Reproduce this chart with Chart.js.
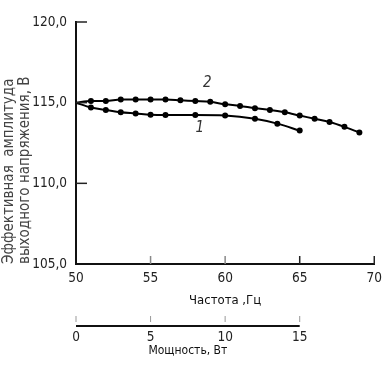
<!DOCTYPE html>
<html>
<head>
<meta charset="utf-8">
<script src="https://cdn.jsdelivr.net/npm/chart.js@4"></script>
<style>
  html, body { margin: 0; padding: 0; background: #fff; }
</style>
</head>
<body>
<canvas id="chart" width="388" height="366"></canvas>
<script>
// Curve 2 (upper)
const freq2 = [50, 51, 52, 53, 54, 55, 56, 57, 58, 59, 60, 61, 62, 63, 64, 65, 66, 67, 68, 69];
const volt2 = [115.0, 115.1, 115.1, 115.2, 115.2, 115.2, 115.2, 115.15, 115.1, 115.05, 114.9, 114.8, 114.65, 114.55, 114.4, 114.2, 114.0, 113.8, 113.5, 113.15];
// Curve 1 (lower)
const freq1 = [50, 51, 52, 53, 54, 55, 56, 58, 60, 62, 63.5, 65];
const volt1 = [115.0, 114.7, 114.55, 114.4, 114.33, 114.25, 114.23, 114.23, 114.2, 114.0, 113.7, 113.27];

const freqTicks = [50, 55, 60, 65, 70];
const voltTicks = [105, 110, 115, 120];
const powerTicks = [0, 5, 10, 15];

// curve number labels: [text, freq, volt]
const curveLabels = [['2', 58.8, 116.2], ['1', 58.3, 113.45]];

// narrow face if one is installed, else the plain sans
const FONT = '"Liberation Sans Narrow", "DejaVu Sans", sans-serif';
const STRETCH = 'condensed';

function toPoints(xs, ys) {
    return xs.map((x, i) => ({ x: x, y: ys[i] }));
}

const extras = {
    id: 'extras',
    afterDraw(chart) {
        const ctx = chart.ctx;
        const x = chart.scales.x;
        const y = chart.scales.y;
        const x2 = chart.scales.x2;
        ctx.save();

        // inward tick marks on the main axes
        ctx.strokeStyle = '#222';
        ctx.lineWidth = 1.5;
        voltTicks.forEach(v => {
            if (v <= y.min) return;
            const py = y.getPixelForValue(v);
            ctx.beginPath();
            ctx.moveTo(x.left, py);
            ctx.lineTo(x.left + 11, py);
            ctx.stroke();
        });
        freqTicks.forEach(v => {
            if (v <= x.min) return;
            const px = x.getPixelForValue(v);
            ctx.strokeStyle = v >= 65 ? '#222' : '#888';
            ctx.beginPath();
            ctx.moveTo(px, y.bottom);
            ctx.lineTo(px, y.bottom - 8);
            ctx.stroke();
        });

        // power axis line, only 0..15
        ctx.strokeStyle = '#111';
        ctx.lineWidth = 2;
        ctx.beginPath();
        ctx.moveTo(x2.getPixelForValue(0), x2.top);
        ctx.lineTo(x2.getPixelForValue(15), x2.top);
        ctx.stroke();
        ctx.strokeStyle = '#999';
        ctx.lineWidth = 1;
        powerTicks.forEach(v => {
            const px = x2.getPixelForValue(v);
            ctx.beginPath();
            ctx.moveTo(px, x2.top - 10);
            ctx.lineTo(px, x2.top - 4);
            ctx.stroke();
        });

        ctx.fillStyle = '#111';
        ctx.textAlign = 'center';
        ctx.textBaseline = 'middle';
        ctx.font = STRETCH + ' 12px ' + FONT;
        ctx.fillText('Мощность, Вт', x2.getPixelForValue(7.5), x2.top + 25);

        // curve numbers
        ctx.font = 'italic ' + STRETCH + ' 15px ' + FONT;
        ctx.fillStyle = '#333';
        curveLabels.forEach(([t, fx, fy]) => {
            ctx.fillText(t, x.getPixelForValue(fx), y.getPixelForValue(fy));
        });
        ctx.restore();
    }
};

const lineStyle = {
    borderColor: '#000',
    backgroundColor: '#000',
    borderWidth: 2,
    pointRadius: c => (c.dataIndex === 0 ? 0 : 3),
    pointBorderWidth: 0,
    showLine: true,
    cubicInterpolationMode: 'monotone',
    fill: false
};

const tickFont = { family: FONT, size: 13.5, weight: STRETCH };

new Chart(document.getElementById('chart'), {
    type: 'scatter',
    data: {
        datasets: [
            Object.assign({ label: '2', data: toPoints(freq2, volt2) }, lineStyle),
            Object.assign({ label: '1', data: toPoints(freq1, volt1) }, lineStyle)
        ]
    },
    options: {
        responsive: false,
        animation: false,
        devicePixelRatio: 1,
        layout: { padding: { left: 0, right: 13, top: 22, bottom: 0 } },
        plugins: { legend: { display: false }, tooltip: { enabled: false } },
        scales: {
            x: {
                type: 'linear',
                min: 50,
                max: 70,
                afterBuildTicks: s => { s.ticks = freqTicks.map(v => ({ value: v })); },
                afterFit: s => { s.height = 62; },
                grid: { display: false, drawTicks: false },
                border: { display: true, color: '#111', width: 2 },
                ticks: { padding: 6, color: '#222', font: tickFont },
                title: {
                    display: true,
                    text: 'Частота ,Гц',
                    color: '#111',
                    font: { family: FONT, size: 13, weight: STRETCH },
                    padding: { top: 0, bottom: 18 }
                }
            },
            x2: {
                type: 'linear',
                position: 'bottom',
                min: 0,
                max: 20,
                afterBuildTicks: s => { s.ticks = powerTicks.map(v => ({ value: v })); },
                afterFit: s => { s.height = 40; },
                grid: { display: false, drawTicks: false },
                border: { display: false },
                ticks: { padding: 3, color: '#222', font: tickFont }
            },
            y: {
                type: 'linear',
                min: 105,
                max: 120,
                afterBuildTicks: s => { s.ticks = voltTicks.map(v => ({ value: v })); },
                afterFit: s => { s.width = 76; },
                grid: { display: false, drawTicks: false },
                border: { display: true, color: '#111', width: 2 },
                ticks: {
                    padding: 9,
                    color: '#222',
                    font: tickFont,
                    callback: v => v.toFixed(1).replace('.', ',')
                },
                title: {
                    display: true,
                    align: 'start',
                    text: ['Эффективная  амплитуда', 'выходного напряжения, В'],
                    color: '#444',
                    font: { family: FONT, size: 15, lineHeight: 1.05, weight: STRETCH },
                    padding: { top: 1, bottom: 0 }
                }
            }
        }
    },
    plugins: [extras]
});
</script>
</body>
</html>
